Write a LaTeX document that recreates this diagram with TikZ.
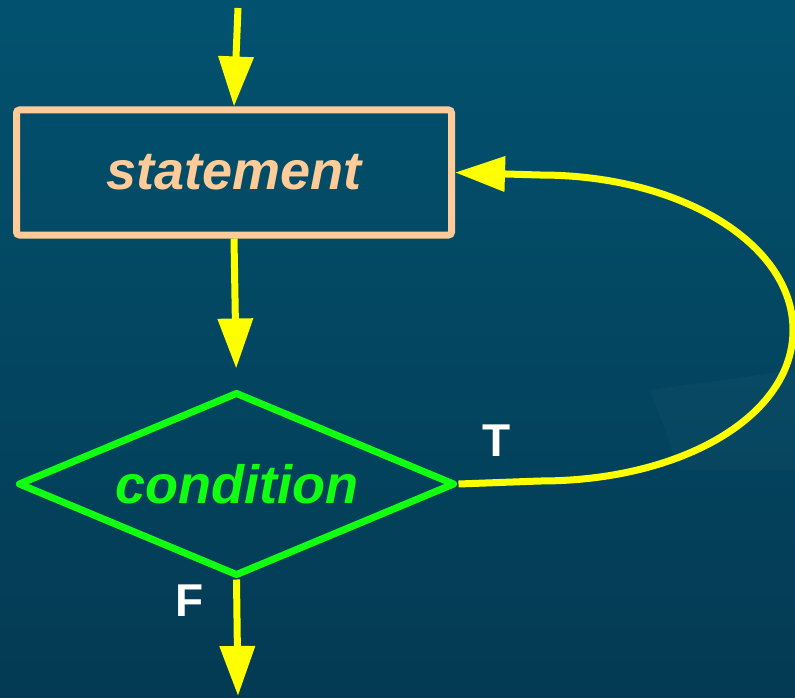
\documentclass[tikz,border=0pt]{standalone}
\usepackage{fontspec}
\setmainfont{Liberation Sans}
\usetikzlibrary{arrows.meta,shapes.geometric}
\definecolor{bgtop}{HTML}{02526F}
\definecolor{bgbot}{HTML}{043A53}
\definecolor{peach}{HTML}{FFCC99}
\definecolor{flowyellow}{HTML}{FFFF00}
\definecolor{flowgreen}{HTML}{11FF11}
\tikzset{
  flow/.style={draw=flowyellow, line width=7pt,
    -{Triangle[length=50pt,width=34pt]}},
  flowplain/.style={draw=flowyellow, line width=7pt},
  stmtbox/.style={rectangle, draw=peach, line width=7pt, rounded corners=3pt,
    minimum width=435pt, minimum height=125pt, inner sep=0pt,
    text=peach, font=\fontsize{54}{60}\selectfont\bfseries\itshape},
  decision/.style={diamond, draw=flowgreen, line width=7pt, line join=round,
    aspect=2.375, minimum width=437pt, minimum height=184pt, inner sep=0pt,
    text=flowgreen, font=\fontsize{54}{60}\selectfont\bfseries\itshape},
  branch/.style={text=white, font=\fontsize{46}{50}\selectfont\bfseries, inner sep=0pt}
}
\begin{document}
\begin{tikzpicture}[x=1pt, y=-1pt]
  % background
  \useasboundingbox (0,0) rectangle (795,698);
  \shade[top color=bgtop, bottom color=bgbot] (0,0) rectangle (795,698);
  \fill[white, opacity=0.025] (650,390) -- (795,370) -- (795,470) -- (680,470) -- cycle;

  % nodes
  \node[stmtbox] (stmt) at (234,172.5) {statement};
  \node[decision] (cond) at (236.5,484) {condition};
  \coordinate (entry) at (238,8);
  \coordinate (exit) at (238,696);
  \coordinate (loopright) at (793,330);
  \coordinate (looptop) at (540,175);
  \coordinate (loopbottom) at (540,481);

  % connectors
  \draw[flow] (entry) -- (stmt.north);
  \draw[flow, shorten >=20pt] (stmt.south) -- (cond.north);
  \draw[flow] (cond.south) -- (exit);
  \draw[flowplain, line join=round] (cond.east) -- (loopbottom)
    .. controls (682,481) and (793,416) .. (loopright);
  \draw[flow] (loopright) .. controls (793,244) and (681,175) .. (looptop) -- (stmt.east);

  % branch labels
  \node[branch] (tlabel) at (497,441) {T};
  \node[branch] (flabel) at (190,601) {F};
\end{tikzpicture}
\end{document}
